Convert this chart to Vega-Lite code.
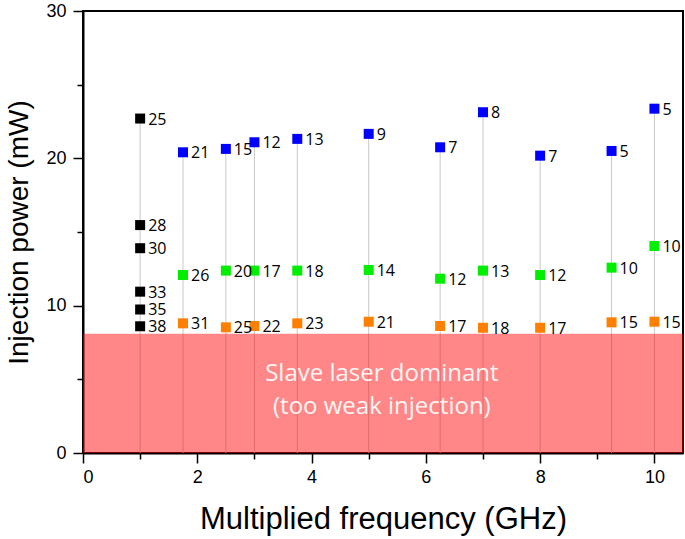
{
  "$schema": "https://vega.github.io/schema/vega-lite/v6.json",
  "width": 600,
  "height": 442,
  "autosize": "none",
  "padding": {"left": 83, "top": 11, "right": 2, "bottom": 86},
  "background": "white",
  "config": {
    "view": {"stroke": "#000", "strokeWidth": 2},
    "axis": {
      "grid": false,
      "domainColor": "#000",
      "domainWidth": 2,
      "tickColor": "#000",
      "tickWidth": 1.5,
      "labelFont": "Arial",
      "labelFontSize": 18,
      "labelColor": "#000",
      "titleFont": "Arial",
      "titleFontWeight": "normal",
      "titleColor": "#000"
    }
  },
  "datasets": {
    "pts": [
      {"f": 1, "p": 22.7, "s": "k", "n": "25"},
      {"f": 1, "p": 15.47, "s": "k", "n": "28"},
      {"f": 1, "p": 13.9, "s": "k", "n": "30"},
      {"f": 1, "p": 10.95, "s": "k", "n": "33"},
      {"f": 1, "p": 9.74, "s": "k", "n": "35"},
      {"f": 1, "p": 8.6, "s": "k", "n": "38"},
      {"f": 1.75, "p": 20.41, "s": "b", "n": "21"},
      {"f": 1.75, "p": 12.08, "s": "g", "n": "26"},
      {"f": 1.75, "p": 8.8, "s": "o", "n": "31"},
      {"f": 2.5, "p": 20.64, "s": "b", "n": "15"},
      {"f": 2.5, "p": 12.38, "s": "g", "n": "20"},
      {"f": 2.5, "p": 8.53, "s": "o", "n": "25"},
      {"f": 3, "p": 21.09, "s": "b", "n": "12"},
      {"f": 3, "p": 12.38, "s": "g", "n": "17"},
      {"f": 3, "p": 8.62, "s": "o", "n": "22"},
      {"f": 3.75, "p": 21.32, "s": "b", "n": "13"},
      {"f": 3.75, "p": 12.38, "s": "g", "n": "18"},
      {"f": 3.75, "p": 8.8, "s": "o", "n": "23"},
      {"f": 5, "p": 21.66, "s": "b", "n": "9"},
      {"f": 5, "p": 12.42, "s": "g", "n": "14"},
      {"f": 5, "p": 8.91, "s": "o", "n": "21"},
      {"f": 6.25, "p": 20.75, "s": "b", "n": "7"},
      {"f": 6.25, "p": 11.83, "s": "g", "n": "12"},
      {"f": 6.25, "p": 8.62, "s": "o", "n": "17"},
      {"f": 7, "p": 23.13, "s": "b", "n": "8"},
      {"f": 7, "p": 12.38, "s": "g", "n": "13"},
      {"f": 7, "p": 8.5, "s": "o", "n": "18"},
      {"f": 8, "p": 20.18, "s": "b", "n": "7"},
      {"f": 8, "p": 12.08, "s": "g", "n": "12"},
      {"f": 8, "p": 8.5, "s": "o", "n": "17"},
      {"f": 9.25, "p": 20.5, "s": "b", "n": "5"},
      {"f": 9.25, "p": 12.58, "s": "g", "n": "10"},
      {"f": 9.25, "p": 8.87, "s": "o", "n": "15"},
      {"f": 10, "p": 23.37, "s": "b", "n": "5"},
      {"f": 10, "p": 14.05, "s": "g", "n": "10"},
      {"f": 10, "p": 8.91, "s": "o", "n": "15"}
    ],
    "region": [{"lo": 0, "hi": 8.1}],
    "note": [{"f": 5.23, "p": 5.35, "t": "Slave laser dominant\n (too weak injection)"}]
  },
  "layer": [
    {
      "data": {"name": "pts"},
      "mark": {"type": "rule", "color": "#c8c8c8", "strokeWidth": 1},
      "encoding": {
        "x": {
          "field": "f", "type": "quantitative",
          "scale": {"domain": [0, 10.5], "nice": false},
          "axis": {
            "title": "Multiplied frequency (GHz)",
            "titleFontSize": 31,
            "values": [0, 1, 2, 3, 4, 5, 6, 7, 8, 9, 10],
            "format": "d",
            "labelExpr": "datum.value % 2 === 0 ? datum.label : ''",
            "tickSize": {"condition": {"test": "datum.value % 2 !== 0", "value": 6}, "value": 10},
            "labelPadding": 5,
            "titlePadding": 18
          }
        },
        "y": {
          "aggregate": "max", "field": "p", "type": "quantitative",
          "scale": {"domain": [0, 30], "nice": false},
          "axis": {
            "title": "Injection power (mW)",
            "titleFontSize": 28,
            "values": [0, 5, 10, 15, 20, 25, 30],
            "format": "d",
            "labelExpr": "datum.value % 10 === 0 ? datum.label : ''",
            "tickSize": {"condition": {"test": "datum.value % 10 !== 0", "value": 6}, "value": 10},
            "labelPadding": 7,
            "titlePadding": 12
          }
        },
        "y2": {"datum": 0}
      }
    },
    {
      "data": {"name": "region"},
      "mark": {"type": "rect", "color": "#ff0000", "opacity": 0.47},
      "encoding": {
        "x": {"datum": 0, "type": "quantitative"},
        "x2": {"datum": 10.5},
        "y": {"field": "lo", "type": "quantitative"},
        "y2": {"field": "hi"}
      }
    },
    {
      "data": {"name": "pts"},
      "mark": {"type": "square", "size": 100, "opacity": 1, "filled": true},
      "encoding": {
        "x": {"field": "f", "type": "quantitative"},
        "y": {"field": "p", "type": "quantitative"},
        "color": {
          "field": "s", "type": "nominal",
          "scale": {"domain": ["k", "b", "g", "o"], "range": ["#000000", "#0000ff", "#00ee00", "#ff7f00"]},
          "legend": null
        }
      }
    },
    {
      "data": {"name": "pts"},
      "mark": {"type": "text", "align": "left", "baseline": "middle", "dx": 8, "dy": 1, "font": "Open Sans", "fontSize": 16, "color": "#000"},
      "encoding": {
        "x": {"field": "f", "type": "quantitative"},
        "y": {"field": "p", "type": "quantitative"},
        "text": {"field": "n"}
      }
    },
    {
      "data": {"name": "note"},
      "mark": {"type": "text", "align": "center", "baseline": "middle", "font": "Open Sans", "fontSize": 24, "lineBreak": "\n", "lineHeight": 33, "color": "#fff4f4"},
      "encoding": {
        "x": {"field": "f", "type": "quantitative"},
        "y": {"field": "p", "type": "quantitative"},
        "text": {"field": "t"}
      }
    }
  ]
}
